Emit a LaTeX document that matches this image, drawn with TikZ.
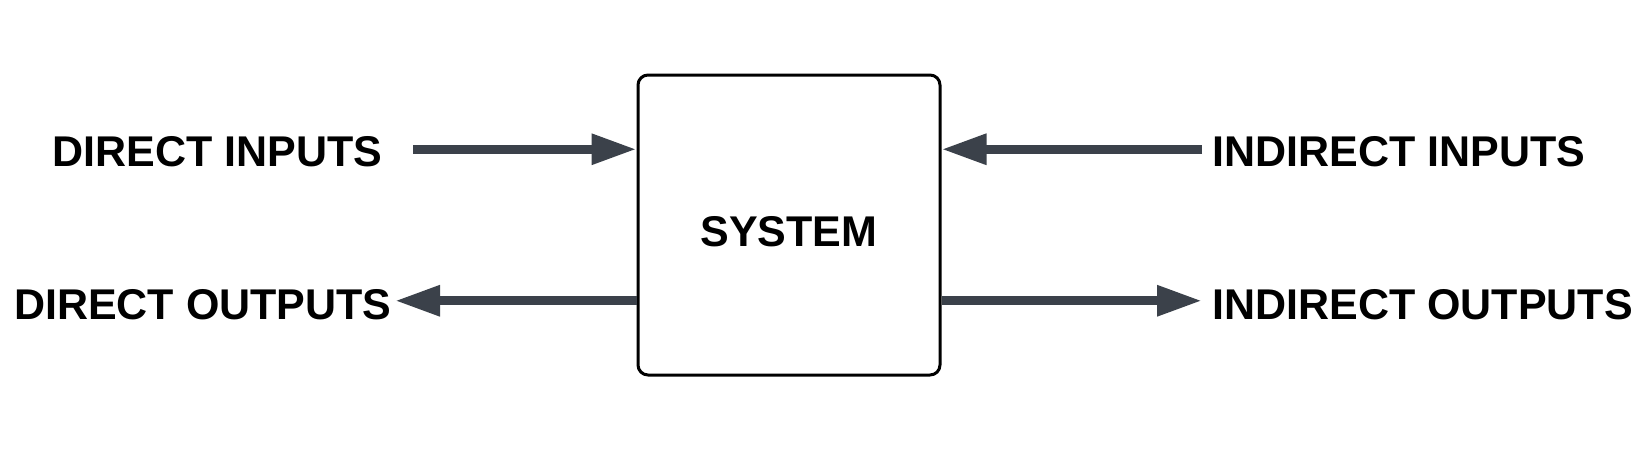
\documentclass[tikz,border=0pt]{standalone}
\usepackage{fontspec}
\setmainfont{Liberation Sans}
\usetikzlibrary{arrows.meta,calc}
\definecolor{arrowgray}{HTML}{3B414A}
\tikzset{
  lbl/.style={inner sep=0pt, font=\fontsize{21.5}{24}\selectfont\bfseries},
  sysbox/.style={draw=black, line width=1.5pt, rounded corners=5pt, fill=white,
    minimum width=151pt, minimum height=150pt, inner sep=0pt,
    font=\fontsize{20.5}{24}\selectfont\bfseries},
  arr/.style={draw=arrowgray, line width=4.5pt,
    -{Triangle[length=22.5pt,width=14.5pt]}, arrowgray}
}
\begin{document}
\begin{tikzpicture}[x=0.5pt,y=-0.5pt]
\useasboundingbox (0,0) rectangle (1648,450);
\node[sysbox] (sys) at (789,225) {};
\node[lbl] (systxt) at (789,232) {SYSTEM};
\node[lbl, anchor=east] (din) at (383,152) {DIRECT INPUTS};
\node[lbl, anchor=east] (dout) at (392,305) {DIRECT OUTPUTS};
\node[lbl, anchor=west] (iin) at (1212,152) {INDIRECT INPUTS};
\node[lbl, anchor=west] (iout) at (1212,305) {INDIRECT OUTPUTS};
\coordinate (a1) at ($(sys.north west)!0.25!(sys.south west)$);
\coordinate (a2) at ($(sys.north west)!0.75!(sys.south west)$);
\coordinate (b1) at ($(sys.north east)!0.25!(sys.south east)$);
\coordinate (b2) at ($(sys.north east)!0.75!(sys.south east)$);
\draw[arr] ([xshift=15pt]din.east |- a1) -- (a1);
\draw[arr] (a2) -- ([xshift=1.5pt]dout.east |- a2);
\draw[arr] ([xshift=-5pt]iin.west |- b1) -- (b1);
\draw[arr] (b2) -- ([xshift=-5pt]iout.west |- b2);
\end{tikzpicture}
\end{document}
